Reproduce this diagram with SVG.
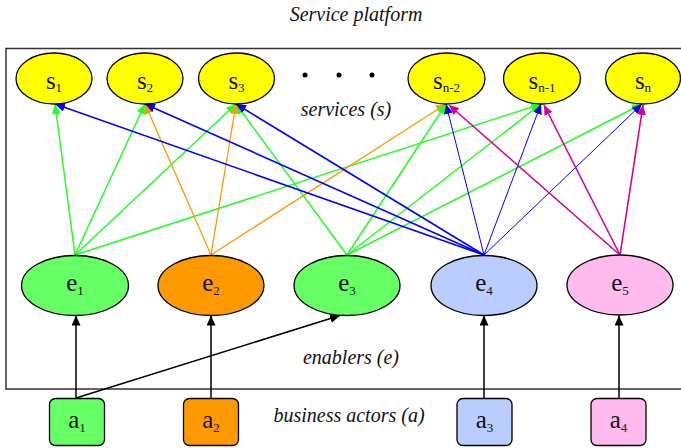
<svg xmlns="http://www.w3.org/2000/svg" width="681" height="448" viewBox="0 0 681 448">
<style>
.lbl{font-style:italic;font-size:20px;fill:#111;text-anchor:middle}
.nt{font-size:25px;fill:#111;text-anchor:middle}
.sub{font-size:13px}
.svc{fill:#ffff00;stroke:#000;stroke-width:1.3}
.en{stroke:#000;stroke-width:1.3}
.act{stroke:#000;stroke-width:1.3}
.g{stroke:#22ff22;stroke-width:1.5;fill:none;marker-end:url(#mg)}
.o{stroke:#ff9900;stroke-width:1.3;fill:none;marker-end:url(#mo)}
.b{stroke:#0000ff;stroke-width:1.6;fill:none;marker-end:url(#mb)}
.bt{stroke:#0000ff;stroke-width:1;fill:none;marker-end:url(#mb)}
.m{stroke:#d4009a;stroke-width:1.6;fill:none;marker-end:url(#mm)}
.k{stroke:#000;stroke-width:1.5;fill:none;marker-end:url(#mk)}
</style>
<defs>
<marker id="mg" markerUnits="userSpaceOnUse" markerWidth="12" markerHeight="10" refX="10" refY="4.5" orient="auto"><path d="M0,0 L10,4.5 L0,9 z" fill="#22ff22"/></marker>
<marker id="mo" markerUnits="userSpaceOnUse" markerWidth="12" markerHeight="10" refX="10" refY="4.5" orient="auto"><path d="M0,0 L10,4.5 L0,9 z" fill="#ff9900"/></marker>
<marker id="mb" markerUnits="userSpaceOnUse" markerWidth="12" markerHeight="10" refX="10" refY="4.5" orient="auto"><path d="M0,0 L10,4.5 L0,9 z" fill="#0000ff"/></marker>
<marker id="mm" markerUnits="userSpaceOnUse" markerWidth="12" markerHeight="10" refX="10" refY="4.5" orient="auto"><path d="M0,0 L10,4.5 L0,9 z" fill="#d4009a"/></marker>
<marker id="mk" markerUnits="userSpaceOnUse" markerWidth="12" markerHeight="10" refX="10" refY="4.5" orient="auto"><path d="M0,0 L10,4.5 L0,9 z" fill="#000"/></marker>
</defs>
<rect width="681" height="448" fill="#fff"/>
<rect id="platform" x="6" y="48.5" width="700" height="340.5" fill="none" stroke="#333" stroke-width="1.5"/>
<g font-family="Liberation Serif, serif">
<text class="lbl" x="356" y="21">Service platform</text>
<text class="lbl" x="346" y="116">services (s)</text>
<text class="lbl" x="351" y="364">enablers (e)</text>
<text class="lbl" x="349" y="422">business actors (a)</text>
</g>
<g id="dots" fill="#000"><circle cx="305" cy="75" r="2.5"/><circle cx="339" cy="75" r="2.5"/><circle cx="372" cy="75" r="2.5"/></g>
<g id="connectors">
<line class="g" x1="75" y1="255" x2="55" y2="104"/>
<line class="g" x1="75" y1="255" x2="145" y2="104"/>
<line class="g" x1="75" y1="255" x2="236" y2="104"/>
<line class="g" x1="75" y1="255" x2="541" y2="104"/>
<line class="o" x1="211" y1="255" x2="145" y2="104"/>
<line class="o" x1="211" y1="255" x2="236" y2="104"/>
<line class="o" x1="211" y1="255" x2="446" y2="104"/>
<line class="g" x1="347" y1="255" x2="236" y2="104"/>
<line class="g" x1="347" y1="255" x2="446" y2="104"/>
<line class="g" x1="347" y1="255" x2="541" y2="104"/>
<line class="g" x1="347" y1="255" x2="642" y2="104"/>
<line class="b" x1="484" y1="255" x2="55" y2="104"/>
<line class="b" x1="484" y1="255" x2="145" y2="104"/>
<line class="b" x1="484" y1="255" x2="236" y2="104"/>
<line class="bt" x1="484" y1="255" x2="446" y2="104"/>
<line class="bt" x1="484" y1="255" x2="541" y2="104"/>
<line class="bt" x1="484" y1="255" x2="642" y2="104"/>
<line class="m" x1="620" y1="255" x2="449" y2="105"/>
<line class="m" x1="620" y1="255" x2="544" y2="105"/>
<line class="m" x1="620" y1="255" x2="643" y2="105"/>
<line class="k" x1="76" y1="398" x2="76" y2="315.5"/>
<line class="k" x1="76" y1="398" x2="340" y2="315.5"/>
<line class="k" x1="211" y1="398" x2="211" y2="315.5"/>
<line class="k" x1="484" y1="398" x2="484" y2="315.5"/>
<line class="k" x1="619" y1="398" x2="619" y2="315.5"/>
</g>
<g font-family="Liberation Serif, serif">
<g id="s1"><ellipse class="svc" cx="54" cy="78.5" rx="38" ry="25.5"/><text class="nt" x="54" y="89">s<tspan class="sub" dy="3">1</tspan></text></g>
<g id="s2"><ellipse class="svc" cx="145" cy="78.5" rx="38" ry="25.5"/><text class="nt" x="145" y="89">s<tspan class="sub" dy="3">2</tspan></text></g>
<g id="s3"><ellipse class="svc" cx="236.5" cy="78.5" rx="38" ry="25.5"/><text class="nt" x="236.5" y="89">s<tspan class="sub" dy="3">3</tspan></text></g>
<g id="sn-2"><ellipse class="svc" cx="446.5" cy="78.5" rx="38.5" ry="25.5"/><text class="nt" x="446.5" y="89">s<tspan class="sub" dy="3">n-2</tspan></text></g>
<g id="sn-1"><ellipse class="svc" cx="542" cy="78.5" rx="38.5" ry="25.5"/><text class="nt" x="542" y="89">s<tspan class="sub" dy="3">n-1</tspan></text></g>
<g id="sn"><ellipse class="svc" cx="643" cy="78.5" rx="37.5" ry="25.5"/><text class="nt" x="643" y="89">s<tspan class="sub" dy="3">n</tspan></text></g>
<g id="e1"><ellipse class="en" cx="75" cy="285.5" rx="53.5" ry="30" fill="#66ff66"/><text class="nt" x="75" y="291">e<tspan class="sub" dy="4">1</tspan></text></g>
<g id="e2"><ellipse class="en" cx="211" cy="285.5" rx="53" ry="30" fill="#ff9900"/><text class="nt" x="211" y="291">e<tspan class="sub" dy="4">2</tspan></text></g>
<g id="e3"><ellipse class="en" cx="347" cy="285.5" rx="53" ry="30" fill="#66ff66"/><text class="nt" x="347" y="291">e<tspan class="sub" dy="4">3</tspan></text></g>
<g id="e4"><ellipse class="en" cx="484" cy="285.5" rx="53" ry="30" fill="#bbccff"/><text class="nt" x="484" y="291">e<tspan class="sub" dy="4">4</tspan></text></g>
<g id="e5"><ellipse class="en" cx="620" cy="285" rx="53" ry="30" fill="#ffbbee"/><text class="nt" x="620" y="291">e<tspan class="sub" dy="4">5</tspan></text></g>
<g id="a1"><rect class="act" x="49.5" y="398.5" width="55" height="47" rx="6" fill="#66ff66"/><text class="nt" x="77" y="428">a<tspan class="sub" dy="4">1</tspan></text></g>
<g id="a2"><rect class="act" x="183.5" y="398.5" width="55" height="47" rx="6" fill="#ff9900"/><text class="nt" x="211" y="428">a<tspan class="sub" dy="4">2</tspan></text></g>
<g id="a3"><rect class="act" x="457" y="398.5" width="55" height="47" rx="6" fill="#bbccff"/><text class="nt" x="484.5" y="428">a<tspan class="sub" dy="4">3</tspan></text></g>
<g id="a4"><rect class="act" x="591" y="398.5" width="55" height="47" rx="6" fill="#ffbbee"/><text class="nt" x="618.5" y="428">a<tspan class="sub" dy="4">4</tspan></text></g>
</g>
</svg>
